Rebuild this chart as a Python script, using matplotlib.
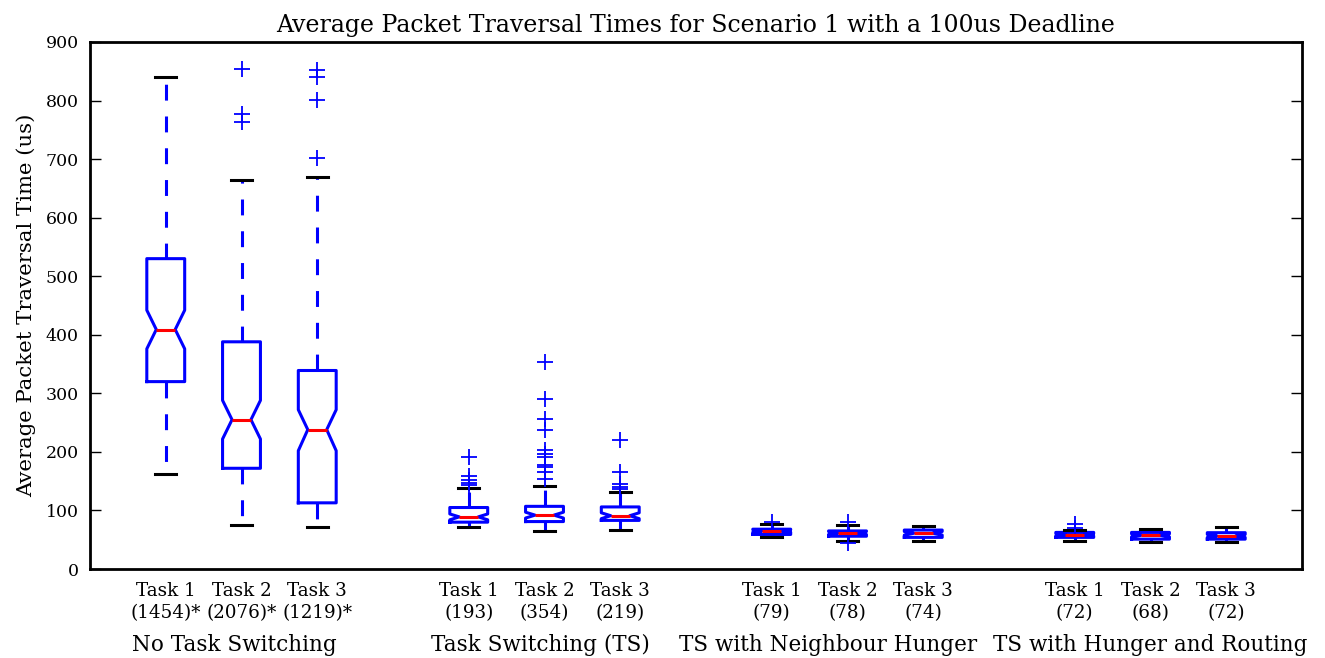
import matplotlib
matplotlib.use("Agg")
import matplotlib.pyplot as plt
import matplotlib.transforms as mtransforms

plt.rcParams['font.family'] = ['DejaVu Serif']

positions = [1, 2, 3, 5, 6, 7, 9, 10, 11, 13, 14, 15]
task_names = ["Task 1", "Task 2", "Task 3"] * 4
counts = ["(1454)*", "(2076)*", "(1219)*", "(193)", "(354)", "(219)",
          "(79)", "(78)", "(74)", "(72)", "(68)", "(72)"]
groups = ["No Task Switching", "Task Switching (TS)",
          "TS with Neighbour Hunger", "TS with Hunger and Routing"]
group_x = [1.90, 5.95, 9.74, 14.0]

q1 = [320, 172, 113, 80, 81, 83, 59, 56, 54, 54, 51, 51]
med = [409, 255, 238, 89, 92, 91, 65, 61.5, 61, 58.5, 57.5, 56.5]
q3 = [530, 388, 339, 105, 107, 106, 68, 65, 66.5, 62.5, 62.5, 62]
whislo = [163, 75, 72, 71, 65, 67, 54, 48, 48, 48, 45.5, 45.5]
whishi = [840, 664, 670, 138, 141, 132, 76, 75, 73, 67, 68, 71]
cilo = [376, 222, 202, 84, 87, 86, 63, 59, 58, 56.5, 55, 54]
cihi = [442, 288, 272, 94, 97, 96, 67, 64, 64, 60.5, 60, 59]
fliers = [
    [],
    [854, 777, 763],
    [852, 841, 801, 702],
    [192, 158, 152, 147, 143],
    [353, 290, 257, 237, 204, 196, 192, 178, 175, 166, 153],
    [220, 165, 145, 140, 137],
    [80],
    [80, 44],
    [],
    [76, 70],
    [],
    [],
]

stats = []
for i in range(len(positions)):
    stats.append(dict(q1=q1[i], med=med[i], q3=q3[i], whislo=whislo[i],
                      whishi=whishi[i], cilo=cilo[i], cihi=cihi[i],
                      fliers=fliers[i]))

fig = plt.figure(figsize=(13.25, 6.58), dpi=100)
ax = fig.add_axes([90/1325, 89/658, 1212/1325, 527/658])

LW = 2.2
ax.bxp(stats, positions=positions, widths=0.5, shownotches=True,
       boxprops=dict(color='blue', lw=LW),
       whiskerprops=dict(color='blue', lw=LW, linestyle=(0, (5.2, 5.2))),
       capprops=dict(color='black', lw=LW),
       medianprops=dict(color='red', lw=LW),
       flierprops=dict(marker='+', markeredgecolor='blue', markersize=12,
                       markeredgewidth=1.3, linestyle='none'),
       capwidths=0.28)

ax.set_xlim(0, 16)
ax.set_ylim(0, 900)
ax.set_yticks(range(0, 901, 100))
ax.set_xticks(positions, [f"{t}\n{c}" for t, c in zip(task_names, counts)])
ax.tick_params(axis='x', length=0, pad=9, labelsize=13.2)
for lab in ax.get_xticklabels():
    lab.set_linespacing(1.3)
ax.tick_params(axis='y', direction='in', length=8, width=1, right=True,
               labelsize=12.5, pad=8)
for s in ax.spines.values():
    s.set_linewidth(2)

ax.set_title("Average Packet Traversal Times for Scenario 1 with a 100us Deadline",
             fontsize=17, pad=7)
ax.set_ylabel("Average Packet Traversal Time (us)", fontsize=15.3, labelpad=7)

trans = mtransforms.blended_transform_factory(ax.transData, ax.transAxes)
for g, gx in zip(groups, group_x):
    ax.text(gx, -0.144, g, transform=trans, ha='center', va='center', fontsize=15.5)

fig.savefig("out.png", dpi=100)
